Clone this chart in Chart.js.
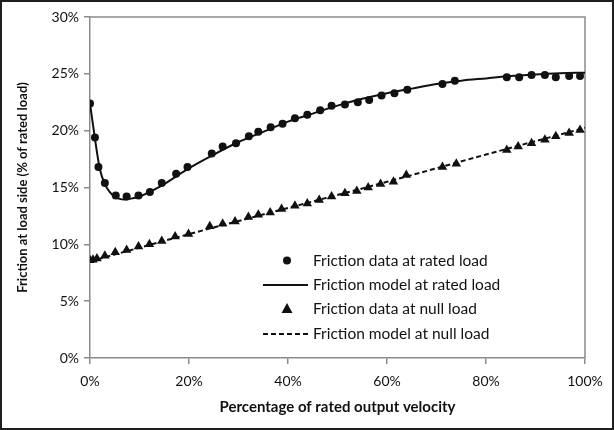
<!DOCTYPE html>
<html>
<head>
<meta charset="utf-8">
<script src="https://cdn.jsdelivr.net/npm/chart.js@4/dist/chart.umd.min.js"></script>
<style>
  html, body { margin: 0; padding: 0; background: #fff; }
  #wrap { width: 614px; height: 430px; box-sizing: border-box; border: 2px solid #1e1e1e; }
  canvas { display: block; }
</style>
</head>
<body>
<div id="wrap"><canvas id="chart" width="610" height="426"></canvas></div>
<script>
// friction measured at rated load (x = % of rated velocity, y = % of rated load)
const ratedDataX = [0, 1, 1.7, 3, 5.2, 7.4, 9.8, 12.1, 14.5, 17.4, 19.7, 24.6, 26.8, 29.5, 32.1, 34.0,
  36.5, 38.9, 41.4, 43.9, 46.5, 48.8, 51.5, 54.1, 56.4, 58.9, 61.5, 64.1, 71.2, 73.7,
  84.2, 86.7, 89.2, 91.9, 94.1, 96.8, 99.0];
const ratedDataY = [22.4, 19.4, 16.8, 15.4, 14.3, 14.2, 14.3, 14.6, 15.4, 16.2, 16.8, 18.0, 18.6, 18.9, 19.5, 19.9,
  20.3, 20.6, 21.1, 21.4, 21.8, 22.2, 22.3, 22.5, 22.7, 23.1, 23.3, 23.6, 24.1, 24.4,
  24.7, 24.7, 24.9, 24.9, 24.7, 24.8, 24.8];

// friction model at rated load
const ratedModelX = [0, 1, 2, 3, 4, 5, 6, 7, 8, 10, 12, 15, 20, 25, 30, 35, 40, 45, 50, 55, 60, 65, 70, 75, 80, 85, 90, 95, 100];
const ratedModelY = [22.4, 19.3, 16.6, 15.3, 14.6, 14.2, 14.0, 13.95, 14.0, 14.2, 14.6, 15.3, 16.7, 17.9, 19.0, 19.9,
  20.8, 21.5, 22.2, 22.8, 23.3, 23.7, 24.1, 24.4, 24.6, 24.8, 24.95, 25.05, 25.1];

// friction measured at null load
const nullDataX = [0, 0.6, 1.4, 3.0, 5.1, 7.4, 9.8, 12.0, 14.5, 17.2, 19.9, 24.2, 26.8, 29.3, 32.0, 34.0,
  36.4, 38.7, 41.4, 43.9, 46.3, 48.8, 51.5, 53.9, 56.2, 58.7, 61.3, 63.9, 71.2, 74.0,
  84.2, 86.5, 89.2, 91.9, 94.1, 96.8, 99.0];
const nullDataY = [8.6, 8.65, 8.75, 9.0, 9.3, 9.5, 9.8, 10.0, 10.3, 10.7, 10.9, 11.6, 11.8, 12.0, 12.4, 12.6,
  12.8, 13.1, 13.4, 13.6, 13.9, 14.2, 14.5, 14.7, 15.0, 15.3, 15.5, 16.1, 16.8, 17.1,
  18.3, 18.6, 18.9, 19.2, 19.5, 19.8, 20.05];

// friction model at null load
const nullModelX = [0, 20, 40, 60, 80, 100];
const nullModelY = [8.5, 10.9, 13.2, 15.5, 17.9, 20.25];

const xTicks = [0, 20, 40, 60, 80, 100];
const yTicks = [0, 5, 10, 15, 20, 25, 30];

const legendLabels = [
  'Friction data at rated load',
  'Friction model at rated load',
  'Friction data at null load',
  'Friction model at null load',
];

const INK = '#111';
const AXIS = '#8a8a8a';
const FONT = 'Lato, "Open Sans", sans-serif';

const toPoints = (xs, ys) => xs.map((x, i) => ({ x, y: ys[i] }));

// plot frame (top + right edges of the plot box)
const framePlugin = {
  id: 'frame',
  beforeDatasetsDraw(chart) {
    const { ctx, chartArea: a } = chart;
    ctx.save();
    ctx.strokeStyle = AXIS;
    ctx.lineWidth = 1.5;
    ctx.beginPath();
    ctx.moveTo(a.left, a.top);
    ctx.lineTo(a.right, a.top);
    ctx.lineTo(a.right, a.bottom);
    ctx.stroke();
    ctx.restore();
  },
};

// legend sits inside the plot, lower middle
const insideLegend = {
  id: 'insideLegend',
  afterDraw(chart) {
    const { ctx, chartArea: a } = chart;
    const markX = a.left + 197;
    const rows = [243.5, 268, 292, 317].map((r) => a.top + r);
    ctx.save();
    ctx.fillStyle = INK;
    ctx.strokeStyle = INK;

    // circle
    ctx.beginPath();
    ctx.arc(markX, rows[0], 4, 0, Math.PI * 2);
    ctx.fill();

    // solid line
    ctx.lineWidth = 2;
    ctx.beginPath();
    ctx.moveTo(a.left + 173, rows[1]);
    ctx.lineTo(a.left + 218, rows[1]);
    ctx.stroke();

    // triangle
    ctx.beginPath();
    ctx.moveTo(markX, rows[2] - 6);
    ctx.lineTo(markX + 5.5, rows[2] + 4);
    ctx.lineTo(markX - 5.5, rows[2] + 4);
    ctx.closePath();
    ctx.fill();

    // dashed line
    ctx.setLineDash([5, 3]);
    ctx.beginPath();
    ctx.moveTo(a.left + 173, rows[3]);
    ctx.lineTo(a.left + 218, rows[3]);
    ctx.stroke();
    ctx.setLineDash([]);

    ctx.font = '15.5px ' + FONT;
    ctx.textBaseline = 'middle';
    ctx.textAlign = 'left';
    legendLabels.forEach((t, i) => ctx.fillText(t, a.left + 223, rows[i]));
    ctx.restore();
  },
};

new Chart(document.getElementById('chart'), {
  type: 'scatter',
  data: {
    datasets: [
      {
        label: legendLabels[0],
        data: toPoints(ratedDataX, ratedDataY),
        pointStyle: 'circle',
        pointRadius: 4,
        backgroundColor: INK,
        borderColor: INK,
        borderWidth: 0,
        order: 0,
      },
      {
        label: legendLabels[1],
        data: toPoints(ratedModelX, ratedModelY),
        showLine: true,
        pointRadius: 0,
        borderColor: INK,
        borderWidth: 2,
        cubicInterpolationMode: 'monotone',
        order: 1,
      },
      {
        label: legendLabels[2],
        data: toPoints(nullDataX, nullDataY),
        pointStyle: 'triangle',
        pointRadius: 5.5,
        backgroundColor: INK,
        borderColor: INK,
        borderWidth: 0,
        order: 0,
      },
      {
        label: legendLabels[3],
        data: toPoints(nullModelX, nullModelY),
        showLine: true,
        pointRadius: 0,
        borderColor: INK,
        borderWidth: 2,
        borderDash: [5, 3],
        cubicInterpolationMode: 'monotone',
        order: 1,
      },
    ],
  },
  options: {
    responsive: false,
    animation: false,
    devicePixelRatio: 1,
    layout: { padding: { left: 0, right: 27, top: 15, bottom: 0 } },
    plugins: {
      legend: { display: false },
      tooltip: { enabled: false },
    },
    scales: {
      x: {
        type: 'linear',
        min: 0,
        max: 100,
        afterBuildTicks: (s) => { s.ticks = xTicks.map((v) => ({ value: v })); },
        afterFit: (s) => { s.height = 70; },
        grid: { drawOnChartArea: false, color: AXIS, tickLength: 6, lineWidth: 1.5 },
        border: { color: AXIS, width: 1.5 },
        ticks: {
          color: INK,
          padding: 9,
          font: { family: FONT, size: 14 },
          callback: (v) => v + '%',
        },
        title: {
          display: true,
          text: 'Percentage of rated output velocity',
          color: INK,
          font: { family: FONT, size: 15, weight: 'bold' },
          padding: { top: 0, bottom: 12 },
        },
      },
      y: {
        type: 'linear',
        min: 0,
        max: 30,
        afterBuildTicks: (s) => { s.ticks = yTicks.map((v) => ({ value: v })); },
        afterFit: (s) => { s.width = 88; },
        grid: { drawOnChartArea: false, color: AXIS, tickLength: 6, lineWidth: 1.5 },
        border: { color: AXIS, width: 1.5 },
        ticks: {
          color: INK,
          padding: 5,
          font: { family: FONT, size: 14 },
          callback: (v) => v + '%',
        },
        title: {
          display: true,
          text: 'Friction at load side (% of rated load)',
          color: INK,
          font: { family: FONT, size: 13, weight: 'bold' },
          padding: { top: 13, bottom: 0 },
        },
      },
    },
  },
  plugins: [framePlugin, insideLegend],
});
</script>
</body>
</html>
